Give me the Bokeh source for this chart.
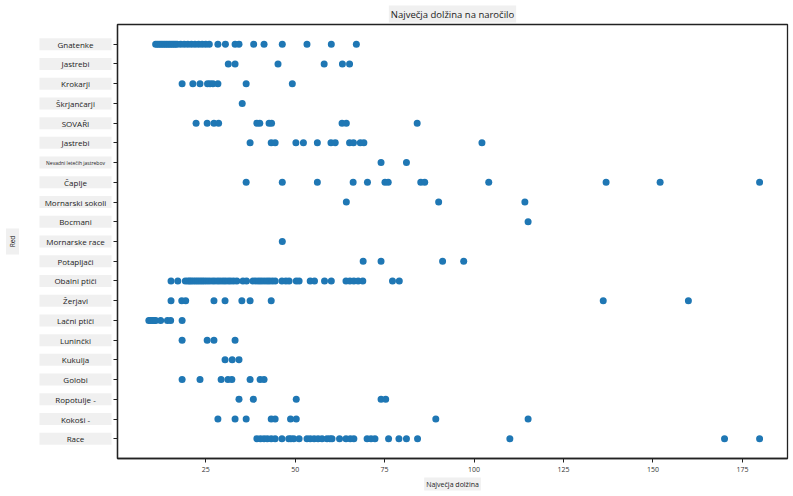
import math
from bokeh.plotting import figure
from bokeh.layouts import row
from bokeh.models import Range1d, FixedTicker, Title
from bokeh.core.properties import value
from bokeh.embed import file_html
from bokeh.resources import INLINE

title_text = "Največja dolžina na naročilo"
x_label = "Največja dolžina"
y_label = "Red"

orders = ["Gnatenke", "Jastrebi", "Krokarji", "Škrjančarji", "SOVAŘI", "Jastrebi",
          "Nevadni letečih jastrebov", "Čaplje", "Mornarski sokoli", "Bocmani",
          "Mornarske race", "Potapljači", "Obalni ptiči", "Žerjavi", "Lačni ptiči",
          "Luninčki", "Kukulja", "Golobi", "Ropotulje -", "Kokoši -", "Race"]

gnatenke = [11, 11.5, 12, 12.5, 13, 13.5, 14, 14.5, 15, 15.5, 16, 16.5, 17, 18, 19, 20,
            21, 22, 23, 24, 25, 26, 28.4, 30.5, 33.2, 34.3, 38.4, 41.3, 46.4, 53.3, 60.1, 67.1]
jastrebi_1 = [31.3, 33.2, 45.2, 58.1, 63.2, 65.2]
krokarji = [18.4, 21.4, 23.4, 25.5, 26.2, 27.0, 28.4, 36.3, 49.2]
skrjancarji = [35.2]
sovari = [22.3, 25.4, 27.3, 28.6, 39.3, 40.1, 42.7, 43.4, 63.1, 64.3, 84.1]
jastrebi_2 = [37.4, 43.3, 44.4, 50.2, 52.3, 56.2, 60.0, 61.2, 65.2, 66.3, 68.2, 69.2, 102.2]
nevadni = [74.0, 81.1]
caplje = [36.3, 46.4, 56.2, 66.2, 70.2, 75.1, 76.0, 85.1, 86.2, 104.1, 136.9, 152.0, 179.8]
mornarski_sokoli = [64.3, 90.1, 114.2]
bocmani = [115.1]
mornarske_race = [46.4]
potapljaci = [69.0, 74.0, 91.2, 97.1]
obalni_ptici = [15.3, 17.2, 19.3, 20, 20.5, 21, 21.6, 22.2, 22.8, 23.4, 24, 24.6, 25.3, 26,
                26.8, 27.5, 28.3, 29, 29.8, 30.5, 31.3, 32, 32.8, 33.7, 35.4, 36.4, 38.2, 39,
                39.8, 40.5, 41.3, 42.1, 42.8, 43.6, 44.4, 46.3, 47.4, 48.3, 50.3, 51.1, 54.2,
                55.4, 58.2, 60.1, 64.2, 65.3, 66.4, 67.6, 68.9, 77.2, 79.1]
zerjavi = [15.3, 18.3, 19.4, 27.3, 30.4, 35.1, 37.4, 43.3, 136.1, 159.9]
lacni_ptici = [9.1, 9.6, 10.1, 10.6, 11.0, 12.4, 14.3, 15.2, 18.4]
luninchki = [18.4, 25.4, 27.3, 33.2]
kukulja = [30.4, 32.4, 34.3]
golobi = [18.4, 23.4, 29.3, 31.2, 32.3, 37.4, 40.2, 41.3]
ropotulje = [34.3, 38.3, 50.3, 74.0, 75.3]
kokosi = [28.4, 33.2, 36.3, 43.3, 44.4, 48.7, 50.3, 89.3, 115.1]
race = [39.3, 40.3, 41.3, 42.2, 43.3, 44.4, 46.3, 48.2, 48.8, 49.6, 51.1, 53.3, 54.2, 55.3,
        56.4, 57.5, 58.9, 59.7, 60.3, 62.4, 64.2, 65.4, 66.4, 70.1, 71.2, 72.3, 76.1, 79.0,
        81.1, 84.2, 110.0, 170.0, 179.8]

series = [gnatenke, jastrebi_1, krokarji, skrjancarji, sovari, jastrebi_2, nevadni, caplje,
          mornarski_sokoli, bocmani, mornarske_race, potapljaci, obalni_ptici, zerjavi,
          lacni_ptici, luninchki, kukulja, golobi, ropotulje, kokosi, race]

x_ticks = [25, 50, 75, 100, 125, 150, 175]

xs, ys = [], []
for i, vals in enumerate(series):
    for v in vals:
        xs.append(v)
        ys.append(i)

FONT = "Open Sans"
BOX = "#f0f0f0"
INK = "#222222"
TOP, BOTTOM, H = 24, 36, 494
LEFT_W = 112

y_range = Range1d(len(orders), -1)

# ---- left panel: category labels (tick labels of the y axis) ----
lab = figure(width=LEFT_W, height=H, x_range=Range1d(0, LEFT_W), y_range=y_range,
             output_backend="svg", toolbar_location=None,
             min_border_left=0, min_border_right=0, min_border_top=TOP, min_border_bottom=BOTTOM)
lab.axis.visible = False
lab.grid.visible = False
lab.outline_line_color = None

idx = list(range(len(orders)))
box_w = 72
box_cx = LEFT_W - 1 - box_w / 2
lab.rect(x=[box_cx] * len(orders), y=idx, width=box_w, height=12,
         width_units="screen", height_units="screen", fill_color=BOX, line_color=None)
big = [n for n in orders if len(n) <= 20]
big_i = [i for i, n in enumerate(orders) if len(n) <= 20]
small = [n for n in orders if len(n) > 20]
small_i = [i for i, n in enumerate(orders) if len(n) > 20]
lab.text(x=[box_cx] * len(big), y=big_i, text=big, text_align="center",
         text_baseline="middle", text_font=value(FONT), text_font_size="8px", text_color=INK)
lab.text(x=[box_cx] * len(small), y=small_i, text=small, text_align="center",
         text_baseline="middle", text_font=value(FONT), text_font_size="5px", text_color=INK)

# axis title "Red", rotated
lab.rect(x=[12], y=[(len(orders) - 1) / 2], width=13, height=26,
         width_units="screen", height_units="screen", fill_color=BOX, line_color=None)
lab.text(x=[12], y=[(len(orders) - 1) / 2], text=[y_label], angle=math.pi / 2,
         text_align="center", text_baseline="middle", text_font=value(FONT),
         text_font_size="6.5px", text_color=INK)

# ---- main plot ----
p = figure(width=678, height=H, x_range=Range1d(0.34, 187.6), y_range=y_range,
           output_backend="svg", toolbar_location=None,
           min_border_left=5, min_border_right=3, min_border_top=TOP, min_border_bottom=BOTTOM)

p.scatter(xs, ys, size=7, fill_color="#1f77b4", line_color=None)

p.grid.visible = False
p.outline_line_color = INK
p.outline_line_width = 1.3

ttl = Title(text=title_text, align="center", text_font=FONT, text_font_size="9.5px",
            text_font_style="normal", text_color=INK, background_fill_color=BOX,
            padding=2, standoff=4)
p.add_layout(ttl, "above")

p.xaxis.ticker = FixedTicker(ticks=x_ticks)
p.yaxis.ticker = FixedTicker(ticks=idx)
p.yaxis.major_label_overrides = {i: "" for i in idx}
p.yaxis.major_label_text_font_size = "0px"
p.yaxis.major_label_standoff = 0

for ax in (p.xaxis[0], p.yaxis[0]):
    ax.axis_line_color = INK
    ax.axis_line_width = 1.3
    ax.major_tick_line_color = INK
    ax.major_tick_out = 4
    ax.major_tick_in = 0
    ax.minor_tick_line_color = None

p.xaxis.major_label_text_font = FONT
p.xaxis.major_label_text_font_size = "7px"
p.xaxis.major_label_text_color = "#333333"
p.xaxis.major_label_standoff = 4

xt = Title(text=x_label, align="center", text_font=FONT, text_font_size="7px",
           text_font_style="normal", text_color=INK, background_fill_color=BOX,
           padding=2, standoff=2)
p.add_layout(xt, "below")

layout = row(lab, p)
open("out.html", "w").write(file_html(layout, INLINE))
